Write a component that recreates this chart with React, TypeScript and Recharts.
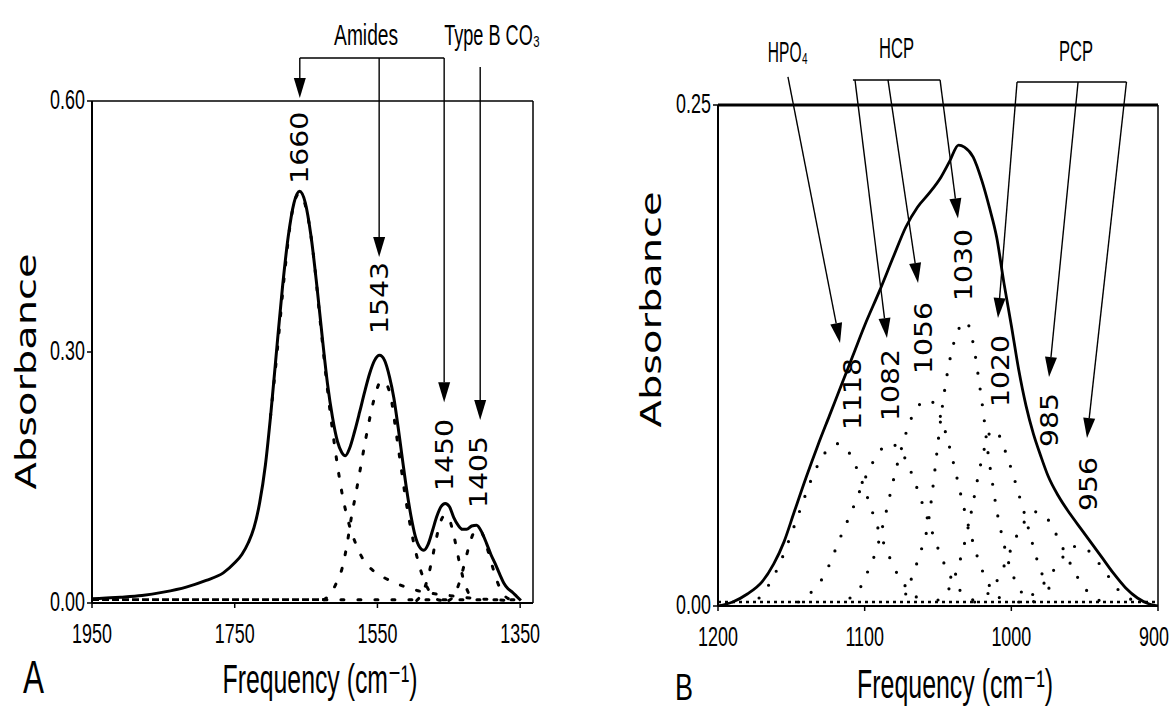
import React from 'react'
import { LineChart, Line, XAxis, YAxis, ReferenceLine } from 'recharts'

type Pt = [number, number]

// ---- panel A: amide / carbonate region (frequency cm-1, absorbance) ----
const aTicksX = [1950, 1750, 1550, 1350]
const aTicksY = [0, 0.3, 0.6]

const aSolid: Pt[] = [
  [1950, 0.005], [1930, 0.006], [1910, 0.007], [1880, 0.009], [1850, 0.013],
  [1818, 0.019], [1790, 0.027], [1766, 0.036], [1750, 0.048], [1740, 0.058],
  [1731, 0.072], [1723, 0.090], [1715, 0.120], [1707, 0.165], [1699, 0.230],
  [1691, 0.305], [1683, 0.378], [1675, 0.438], [1667, 0.478], [1659, 0.492],
  [1651, 0.478], [1643, 0.438], [1635, 0.380], [1627, 0.315], [1620, 0.262],
  [1613, 0.222], [1606, 0.193], [1600, 0.180], [1595, 0.176], [1589, 0.185],
  [1582, 0.205], [1575, 0.228], [1568, 0.252], [1561, 0.274], [1554, 0.290],
  [1547, 0.296], [1540, 0.290], [1533, 0.270], [1527, 0.245], [1521, 0.210],
  [1515, 0.172], [1509, 0.135], [1503, 0.104], [1497, 0.080], [1491, 0.067],
  [1485, 0.063], [1479, 0.070], [1473, 0.086], [1467, 0.103], [1461, 0.115],
  [1455, 0.119], [1449, 0.115], [1443, 0.102], [1437, 0.093], [1431, 0.088],
  [1425, 0.088], [1418, 0.092], [1411, 0.093], [1404, 0.085], [1397, 0.071],
  [1391, 0.058], [1385, 0.047], [1379, 0.035], [1373, 0.024], [1367, 0.017],
  [1361, 0.013], [1355, 0.008], [1349, 0.003],
]

const a1660: Pt[] = [
  [1700, 0.222], [1690, 0.305], [1680, 0.395], [1670, 0.465], [1660, 0.489],
  [1650, 0.472], [1640, 0.418], [1630, 0.335], [1620, 0.255], [1610, 0.188],
  [1600, 0.133], [1590, 0.095], [1580, 0.070], [1570, 0.052], [1555, 0.038],
  [1540, 0.030], [1525, 0.024], [1510, 0.019], [1490, 0.014], [1470, 0.011],
  [1450, 0.009], [1420, 0.006], [1390, 0.004], [1360, 0.003],
]
const a1543: Pt[] = [
  [1625, 0.004], [1615, 0.012], [1607, 0.025], [1600, 0.040], [1593, 0.068],
  [1587, 0.100], [1580, 0.132], [1573, 0.165], [1566, 0.198], [1559, 0.228],
  [1552, 0.252], [1545, 0.265], [1538, 0.262], [1531, 0.245], [1524, 0.205],
  [1517, 0.163], [1510, 0.122], [1503, 0.088], [1496, 0.060], [1489, 0.038],
  [1482, 0.022], [1475, 0.011], [1468, 0.005], [1460, 0.003],
]
const a1450: Pt[] = [
  [1495, 0.003], [1487, 0.012], [1480, 0.028], [1474, 0.050], [1468, 0.075],
  [1462, 0.096], [1455, 0.105], [1448, 0.097], [1442, 0.077], [1436, 0.052],
  [1430, 0.030], [1424, 0.015], [1418, 0.006], [1410, 0.002],
]
const a1405: Pt[] = [
  [1450, 0.003], [1442, 0.010], [1435, 0.025], [1428, 0.047], [1421, 0.070],
  [1415, 0.084], [1409, 0.088], [1403, 0.083], [1397, 0.068], [1391, 0.050],
  [1385, 0.033], [1379, 0.019], [1372, 0.009], [1364, 0.004], [1355, 0.002],
]
const aBase: Pt[] = [[1950, 0.004], [1625, 0.004]]
const aBaseTail: Pt[] = [[1625, 0.004], [1345, 0.004]]

// ---- panel B: phosphate region ----
const bTicksX = [1200, 1100, 1000, 900]
const bTicksY = [0, 0.25]

const bSolid: Pt[] = [
  [1200, 0.000], [1190, 0.002], [1180, 0.006], [1170, 0.012], [1162, 0.021],
  [1155, 0.032], [1148, 0.047], [1140, 0.064], [1132, 0.080], [1124, 0.095],
  [1116, 0.110], [1108, 0.125], [1100, 0.140], [1090, 0.157], [1080, 0.175],
  [1072, 0.189], [1064, 0.199], [1056, 0.206], [1048, 0.214], [1042, 0.222],
  [1036, 0.230], [1032, 0.229], [1026, 0.224], [1020, 0.212], [1015, 0.199],
  [1010, 0.184], [1005, 0.161], [1000, 0.140], [995, 0.118], [990, 0.100],
  [985, 0.086], [980, 0.075], [975, 0.065], [968, 0.055], [960, 0.046],
  [952, 0.038], [945, 0.031], [938, 0.024], [930, 0.016], [922, 0.009],
  [914, 0.004], [906, 0.001], [900, 0.000],
]

const b1118: Pt[] = [
  [1172, 0.004], [1165, 0.011], [1158, 0.021], [1151, 0.034], [1144, 0.048],
  [1137, 0.062], [1130, 0.073], [1124, 0.079], [1118, 0.081], [1112, 0.078],
  [1105, 0.068], [1098, 0.054], [1091, 0.039], [1084, 0.026], [1077, 0.015],
  [1070, 0.008], [1062, 0.003],
]
const b1082: Pt[] = [
  [1145, 0.002], [1135, 0.008], [1127, 0.016], [1120, 0.028], [1115, 0.037],
  [1109, 0.047], [1103, 0.058], [1097, 0.068], [1090, 0.077], [1083, 0.081],
  [1076, 0.078], [1069, 0.068], [1062, 0.054], [1055, 0.039], [1048, 0.025],
  [1041, 0.014], [1034, 0.007], [1026, 0.003],
]
const b1056: Pt[] = [
  [1110, 0.004], [1104, 0.008], [1098, 0.017], [1092, 0.028], [1086, 0.045],
  [1080, 0.064], [1074, 0.081], [1068, 0.094], [1062, 0.101], [1057, 0.103],
  [1051, 0.099], [1045, 0.087], [1039, 0.070], [1033, 0.051], [1027, 0.034],
  [1021, 0.020], [1014, 0.009], [1006, 0.003],
]
const b1030: Pt[] = [
  [1072, 0.006], [1066, 0.018], [1061, 0.029], [1057, 0.040], [1054, 0.056],
  [1051, 0.075], [1048, 0.094], [1045, 0.110], [1041, 0.126], [1036, 0.138],
  [1031, 0.142], [1026, 0.131], [1022, 0.112], [1019, 0.096], [1016, 0.077],
  [1013, 0.062], [1010, 0.048], [1006, 0.034], [1002, 0.022], [997, 0.012],
  [991, 0.005], [984, 0.002],
]
const b1020: Pt[] = [
  [1050, 0.003], [1043, 0.008], [1037, 0.018], [1032, 0.031], [1027, 0.048],
  [1022, 0.067], [1017, 0.082], [1013, 0.088], [1009, 0.086], [1004, 0.077],
  [999, 0.066], [995, 0.056], [991, 0.046], [987, 0.035], [982, 0.022],
  [976, 0.011], [969, 0.004],
]
const b985: Pt[] = [
  [1025, 0.002], [1015, 0.007], [1008, 0.015], [1001, 0.027], [995, 0.037],
  [989, 0.044], [983, 0.047], [977, 0.045], [971, 0.038], [965, 0.029],
  [959, 0.020], [952, 0.011], [945, 0.005], [937, 0.002],
]
const b956: Pt[] = [
  [995, 0.002], [985, 0.006], [977, 0.012], [970, 0.019], [963, 0.026],
  [955, 0.030], [948, 0.028], [941, 0.022], [934, 0.015], [927, 0.008],
  [920, 0.004], [912, 0.001],
]
const bBase: Pt[] = [[1200, 0.002], [900, 0.002]]

// annotation anchors, in data units: [f1, a1, f2, a2, arrowhead]
const aArrows: [number, number, number, number, boolean][] = [
  [1658.8, 0.6514, 1456.5, 0.6514, false],
  [1658.8, 0.6514, 1658.8, 0.6036, true],
  [1547.6, 0.6514, 1547.6, 0.4135, true],
  [1456.5, 0.6514, 1456.5, 0.240, true],
  [1406, 0.6406, 1406, 0.2187, true],
]
const aPeakLabels: [string, number, number][] = [
  ['1660', 1658.8, 0.544], ['1543', 1547.6, 0.3645],
  ['1450', 1456.5, 0.177], ['1405', 1408.8, 0.1566],
]
const bArrows: [number, number, number, number, boolean][] = [
  [1152.3, 0.264, 1116.8, 0.1312, true],
  [1108, 0.2625, 1048.6, 0.2625, false],
  [1106.6, 0.2625, 1084.8, 0.1337, true],
  [1084.1, 0.2625, 1063.6, 0.1612, true],
  [1048.6, 0.2625, 1036.4, 0.1934, true],
  [996.1, 0.2615, 921.5, 0.2615, false],
  [996.1, 0.2615, 1009.1, 0.1437, true],
  [954.5, 0.2615, 974.3, 0.1143, true],
  [921.5, 0.2615, 948.4, 0.0838, true],
]
const bPeakLabels: [string, number, number][] = [
  ['1118', 1108.6, 0.1058], ['1082', 1082.7, 0.1103], ['1056', 1060.2, 0.1337],
  ['1030', 1032.3, 0.1702], ['1020', 1007.7, 0.1173], ['985', 974.3, 0.0928],
  ['956', 947.7, 0.0609],
]

const NARROW = '"Liberation Sans", Arial, "DejaVu Sans", sans-serif'
const WIDE = '"DejaVu Sans", Verdana, sans-serif'

const rows = (pts: Pt[]) => pts.map(([f, a]) => ({ f, a }))

// tick labels: Liberation Sans squeezed horizontally to the narrow face of the figure
function XTick({ x, y, payload, drop }: any) {
  const s = String(payload.value)
  const cx = s.length === 3 ? x - 4 : x
  return (
    <text transform={`translate(${cx},${y + drop}) scale(0.64,1)`} textAnchor="middle"
      fontFamily={NARROW} fontSize={28} fill="#000">{s}</text>
  )
}

function YTick({ x, y, payload }: any) {
  return (
    <text transform={`translate(${x},${y + 8}) scale(0.64,1)`} textAnchor="end"
      fontFamily={NARROW} fontSize={28} fill="#000">{Number(payload.value).toFixed(2)}</text>
  )
}

const arrow = (head: boolean) => (p: any) => {
  const { x1, y1, x2, y2 } = p
  const len = Math.hypot(x2 - x1, y2 - y1) || 1
  const ux = (x2 - x1) / len
  const uy = (y2 - y1) / len
  const L = head ? 20 : 0
  const W = 6
  const bx = x2 - ux * L
  const by = y2 - uy * L
  return (
    <g>
      <line x1={x1} y1={y1} x2={bx} y2={by} stroke="#000" strokeWidth={1.4} />
      {head && (
        <polygon fill="#000"
          points={`${x2},${y2} ${bx - uy * W},${by + ux * W} ${bx + uy * W},${by - ux * W}`} />
      )}
    </g>
  )
}

const peakLabel = (text: string) => (p: any) => (
  <text transform={`translate(${p.x1},${p.y1}) rotate(-90)`} textAnchor="middle"
    dominantBaseline="central" fontFamily={WIDE} fontSize={25}
    textLength={text.length * 18} lengthAdjust="spacingAndGlyphs" fill="#000">{text}</text>
)

const axisTitle = (text: string) => (p: any) => (
  <text transform={`translate(${p.x1},${p.y1}) rotate(-90)`} textAnchor="middle"
    fontFamily={WIDE} fontSize={28} textLength={236} lengthAdjust="spacingAndGlyphs" fill="#000">{text}</text>
)

const plain = (content: string, size: number, len: number, anchor = 'start') => (p: any) => (
  <text x={p.x1} y={p.y1} textAnchor={anchor} fontFamily={NARROW} fontSize={size}
    textLength={len} lengthAdjust="spacingAndGlyphs" fill="#000">{content}</text>
)

const note = (key: string, f: number, a: number, shape: any) => (
  <ReferenceLine key={key} segment={[{ x: f, y: a }, { x: f, y: a }]} ifOverflow="visible" shape={shape} />
)

const seg = (s: [number, number, number, number, boolean], i: number) => (
  <ReferenceLine key={'s' + i} segment={[{ x: s[0], y: s[1] }, { x: s[2], y: s[3] }]}
    ifOverflow="visible" shape={arrow(s[4])} />
)

const dotsA = { stroke: '#000', strokeWidth: 3, strokeDasharray: '3 14', strokeLinecap: 'round' as const }
const dotsB = { stroke: '#000', strokeWidth: 3.2, strokeDasharray: '0 16', strokeLinecap: 'round' as const }

const line = (key: string, pts: Pt[], extra: any) => (
  <Line key={key} data={rows(pts)} dataKey="a" type="monotone" dot={false}
    isAnimationActive={false} {...extra} />
)

const FREQ = 'Frequency (cm\u207B\u00B9)'

function PanelA() {
  // svg is wider than its half of the page so the CO3 label is not clipped; plot area unchanged
  return (
    <LineChart width={660} height={709} margin={{ top: 101, right: 127, bottom: 66, left: 32 }}>
      <XAxis dataKey="f" type="number" domain={[1332, 1950]} reversed allowDataOverflow
        ticks={aTicksX} height={40} tickSize={5}
        axisLine={{ stroke: '#000', strokeWidth: 2 }} tickLine={{ stroke: '#000', strokeWidth: 1.5 }}
        tick={<XTick drop={33} />} />
      <YAxis type="number" domain={[0, 0.6]} ticks={aTicksY} width={60} tickSize={5} allowDataOverflow
        axisLine={{ stroke: '#000', strokeWidth: 2 }} tickLine={{ stroke: '#000', strokeWidth: 1.5 }}
        tick={<YTick />} />
      <ReferenceLine y={0.6} stroke="#000" strokeWidth={1.3} />
      <ReferenceLine x={1332} stroke="#000" strokeWidth={1.5} />
      {line('base', aBase, { stroke: '#000', strokeWidth: 2.6, strokeDasharray: '7 3' })}
      {line('tail', aBaseTail, dotsA)}
      {line('c1660', a1660, dotsA)}
      {line('c1543', a1543, dotsA)}
      {line('c1450', a1450, dotsA)}
      {line('c1405', a1405, dotsA)}
      {line('sum', aSolid, { stroke: '#000', strokeWidth: 3 })}
      {aArrows.map(seg)}
      {aPeakLabels.map(([t, f, a]) => note('p' + t, f, a, peakLabel(t)))}
      {note('ttl', 2028.5, 0.2767, axisTitle('Absorbance'))}
      {note('fr', 1630.4, -0.1076, plain(FREQ, 40, 195, 'middle'))}
      {note('pa', 2046.7, -0.1076, plain('A', 46, 21))}
      {note('am', 1565.9, 0.6669, plain('Amides', 29, 64, 'middle'))}
      {note('co', 1456.5, 0.6669, plain('Type B CO\u2083', 29, 96))}
    </LineChart>
  )
}

function PanelB() {
  return (
    <LineChart width={587} height={709} margin={{ top: 105, right: 16, bottom: 63, left: 71 }}>
      <XAxis dataKey="f" type="number" domain={[900, 1200]} reversed allowDataOverflow
        ticks={bTicksX} height={40} tickSize={5}
        axisLine={{ stroke: '#000', strokeWidth: 2.2 }} tickLine={{ stroke: '#000', strokeWidth: 1.5 }}
        tick={<XTick drop={33} />} />
      <YAxis type="number" domain={[0, 0.25]} ticks={bTicksY} width={60} tickSize={5} allowDataOverflow
        axisLine={{ stroke: '#000', strokeWidth: 2 }} tickLine={{ stroke: '#000', strokeWidth: 1.5 }}
        tick={<YTick />} />
      <ReferenceLine y={0.25} stroke="#000" strokeWidth={3} />
      <ReferenceLine x={900} stroke="#000" strokeWidth={1.5} />
      {line('base', bBase, { stroke: '#000', strokeWidth: 2.6, strokeDasharray: '3 4' })}
      {line('c1118', b1118, dotsB)}
      {line('c1082', b1082, dotsB)}
      {line('c1056', b1056, dotsB)}
      {line('c1030', b1030, dotsB)}
      {line('c1020', b1020, dotsB)}
      {line('c985', b985, dotsB)}
      {line('c956', b956, dotsB)}
      {line('sum', bSolid, { stroke: '#000', strokeWidth: 2.8 })}
      {bArrows.map(seg)}
      {bPeakLabels.map(([t, f, a]) => note('p' + t, f, a, peakLabel(t)))}
      {note('ttl', 1238.9, 0.148, axisTitle('Absorbance'))}
      {note('fr', 1038.4, -0.0459, plain(FREQ, 40, 196, 'middle'))}
      {note('pb', 1229.3, -0.0469, plain('B', 36, 18))}
      {note('hpo', 1166, 0.2715, plain('HPO\u2084', 29, 40))}
      {note('hcp', 1090.2, 0.2735, plain('HCP', 29, 35))}
      {note('pcp', 967.5, 0.272, plain('PCP', 29, 34))}
    </LineChart>
  )
}

export default function App() {
  return (
    <div style={{ position: 'absolute', left: 0, top: 0, width: 1174, height: 709, background: '#fff' }}>
      <div style={{ position: 'absolute', left: 0, top: 0 }}><PanelA /></div>
      <div style={{ position: 'absolute', left: 587, top: 0 }}><PanelB /></div>
    </div>
  )
}
